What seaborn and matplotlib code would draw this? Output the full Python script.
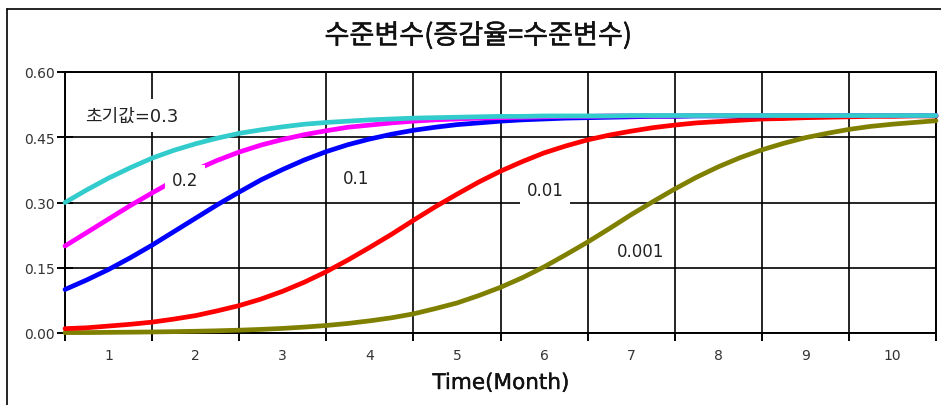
import matplotlib.pyplot as plt
import matplotlib.lines as mlines
import matplotlib.patheffects as pe
from matplotlib.ticker import FixedLocator, FixedFormatter
import seaborn as sns
import pandas as pd
import numpy as np

# time in months, sampled every quarter month
time = np.arange(0, 10.01, 0.25)

level_03 = [0.300, 0.329, 0.356, 0.380, 0.402, 0.420, 0.435, 0.448, 0.459, 0.467,
            0.474, 0.480, 0.484, 0.487, 0.490, 0.492, 0.494, 0.495, 0.496, 0.497,
            0.498, 0.498, 0.499, 0.499, 0.499, 0.499, 0.500, 0.500, 0.500, 0.500,
            0.500, 0.500, 0.500, 0.500, 0.500, 0.500, 0.500, 0.500, 0.500, 0.500, 0.500]
level_02 = [0.200, 0.231, 0.262, 0.293, 0.322, 0.350, 0.375, 0.397, 0.416, 0.432,
            0.445, 0.456, 0.465, 0.473, 0.478, 0.483, 0.487, 0.490, 0.492, 0.494,
            0.495, 0.496, 0.497, 0.498, 0.498, 0.499, 0.499, 0.499, 0.499, 0.500,
            0.500, 0.500, 0.500, 0.500, 0.500, 0.500, 0.500, 0.500, 0.500, 0.500, 0.500]
level_01 = [0.100, 0.122, 0.146, 0.173, 0.202, 0.233, 0.264, 0.295, 0.324, 0.352,
            0.376, 0.398, 0.417, 0.433, 0.446, 0.457, 0.466, 0.473, 0.479, 0.483,
            0.487, 0.490, 0.492, 0.494, 0.495, 0.496, 0.497, 0.498, 0.498, 0.499,
            0.499, 0.499, 0.499, 0.500, 0.500, 0.500, 0.500, 0.500, 0.500, 0.500, 0.500]
level_001 = [0.010, 0.012, 0.016, 0.020, 0.025, 0.032, 0.040, 0.051, 0.063, 0.078,
             0.096, 0.117, 0.141, 0.168, 0.197, 0.227, 0.259, 0.290, 0.319, 0.347,
             0.372, 0.394, 0.414, 0.430, 0.444, 0.455, 0.464, 0.472, 0.478, 0.483,
             0.486, 0.489, 0.492, 0.493, 0.495, 0.496, 0.497, 0.498, 0.498, 0.499, 0.499]
level_0001 = [0.001, 0.001, 0.0015, 0.0019, 0.0024, 0.0031, 0.0040, 0.0051, 0.0065, 0.0083,
              0.0106, 0.0136, 0.0173, 0.022, 0.028, 0.035, 0.044, 0.056, 0.069, 0.086,
              0.105, 0.127, 0.152, 0.180, 0.209, 0.240, 0.272, 0.302, 0.331, 0.358,
              0.382, 0.403, 0.421, 0.436, 0.449, 0.459, 0.468, 0.475, 0.480, 0.484, 0.488]

series_names = ["0.001", "0.01", "0.1", "0.2", "0.3"]
series_values = [level_0001, level_001, level_01, level_02, level_03]
colors = ["#808000", "#FF0000", "#0000FF", "#FF00FF", "#33CCCC"]

y_ticks = [0.0, 0.15, 0.30, 0.45, 0.60]
y_tick_labels = ["0.00", "0.15", "0.30", "0.45", "0.60"]
month_labels = [str(m) for m in range(1, 11)]

title = "수준변수(증감율=수준변수)"
x_label = "Time(Month)"

# curve labels: text, x (month), y, font size
curve_labels = [("초기값=0.3", 0.23, 0.500, 13),
                ("0.2", 1.23, 0.351, 12),
                ("0.1", 3.19, 0.357, 12),
                ("0.01", 5.30, 0.328, 12),
                ("0.001", 6.34, 0.189, 12)]

df = pd.concat([pd.DataFrame({"time": time, "value": vals, "init": name})
                for name, vals in zip(series_names, series_values)])

LATIN = ["DejaVu Sans", "Noto Sans CJK KR"]


def main():
    sns.set_style("white")
    plt.rcParams["font.family"] = ["Noto Sans CJK KR", "DejaVu Sans"]

    fig = plt.figure(figsize=(9.41, 4.06), dpi=100)
    ax = fig.add_axes([65 / 941, 72 / 406, 871 / 941, 261 / 406])

    sns.lineplot(data=df, x="time", y="value", hue="init", hue_order=series_names,
                 palette=colors, lw=3.4, legend=False, ax=ax, clip_on=False, zorder=3)

    ax.set_xlim(0, 10)
    ax.set_ylim(0, 0.6)
    ax.set_xlabel("")
    ax.set_ylabel("")

    ax.set_yticks(y_ticks)
    ax.set_yticklabels(y_tick_labels)
    ax.xaxis.set_major_locator(FixedLocator(range(0, 11)))
    ax.xaxis.set_major_formatter(FixedFormatter([""] * 11))
    ax.xaxis.set_minor_locator(FixedLocator(np.arange(0.5, 10, 1)))
    ax.xaxis.set_minor_formatter(FixedFormatter(month_labels))

    ax.grid(True, which="major", color="black", lw=1.2)
    ax.set_axisbelow(True)
    for sp in ax.spines.values():
        sp.set_color("black")
        sp.set_linewidth(1.4)

    ax.tick_params(axis="y", which="major", direction="inout", length=11, width=1.4,
                   pad=2, labelsize=10, labelcolor="#333333", color="black", left=True)
    ax.tick_params(axis="x", which="major", direction="out", length=6, width=1.4,
                   color="black", bottom=True)
    ax.tick_params(axis="x", which="minor", length=0, pad=11, labelsize=10,
                   labelcolor="#333333", bottom=True)
    for lab in ax.get_yticklabels() + ax.get_xticklabels(minor=True):
        lab.set_family(LATIN)

    for text, tx, ty, fs in curve_labels:
        ax.text(tx, ty, text, fontsize=fs, family=LATIN, color="#222222",
                ha="left", va="center", zorder=5,
                bbox=dict(boxstyle="square,pad=0.4", fc="white", ec="none"))

    fig.text(478 / 941, 1 - 37 / 406, title, ha="center", va="center",
             fontsize=19.5, color="#111111",
             path_effects=[pe.withStroke(linewidth=0.35, foreground="#111111")])
    fig.text(501 / 941, 1 - 384 / 406, x_label, ha="center", va="center",
             fontsize=15.5, family=LATIN, color="#111111",
             path_effects=[pe.withStroke(linewidth=0.3, foreground="#111111")])

    # outer chart frame (left and top edges)
    fig.add_artist(mlines.Line2D([6.5 / 941, 6.5 / 941], [0, 1 - 10 / 406],
                                 transform=fig.transFigure, color="black", lw=1.2))
    fig.add_artist(mlines.Line2D([6.5 / 941, 1], [1 - 10 / 406, 1 - 10 / 406],
                                 transform=fig.transFigure, color="black", lw=1.2))

    fig.savefig("out.png", dpi=100)


if __name__ == "__main__":
    main()
